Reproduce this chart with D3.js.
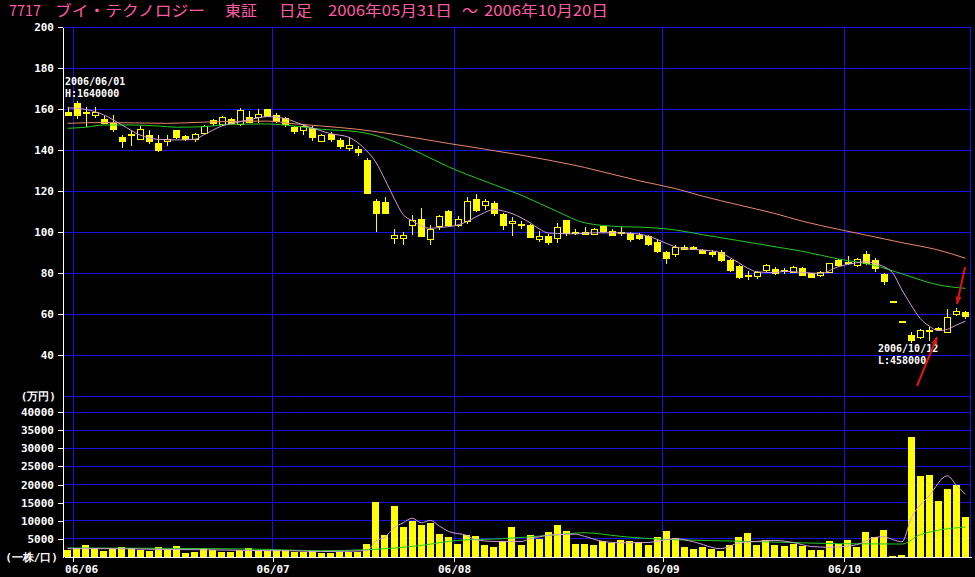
<!DOCTYPE html>
<html lang="ja">
<head>
<meta charset="UTF-8" />
<title>7717 ブイ・テクノロジー 日足</title>
<script src="https://cdn.jsdelivr.net/npm/d3@7"></script>
<style>
  html, body { margin: 0; padding: 0; background: #000; }
  #svgBox { display: block; width: 975px; height: 577px; background: #000; }
</style>
</head>
<body>
<svg id="svgBox" width="975" height="577"></svg>
<script>
// 日付（月/日）
const days = ['05/31',
  '06/01','06/02','06/05','06/06','06/07','06/08','06/09','06/12','06/13','06/14','06/15','06/16',
  '06/19','06/20','06/21','06/22','06/23','06/26','06/27','06/28','06/29','06/30',
  '07/03','07/04','07/05','07/06','07/07','07/10','07/11','07/12','07/13','07/14',
  '07/18','07/19','07/20','07/21','07/24','07/25','07/26','07/27','07/28','07/31',
  '08/01','08/02','08/03','08/04','08/07','08/08','08/09','08/10','08/11','08/14','08/15','08/16',
  '08/17','08/18','08/21','08/22','08/23','08/24','08/25','08/28','08/29','08/30','08/31',
  '09/01','09/04','09/05','09/06','09/07','09/08','09/11','09/12','09/13','09/14','09/15',
  '09/19','09/20','09/21','09/22','09/25','09/26','09/27','09/28','09/29',
  '10/02','10/03','10/04','10/05','10/06','10/10','10/11','10/12','10/13','10/16','10/17',
  '10/18','10/19','10/20']

// 四本値（万円）
const open = [158.3,162.8,158,156.6,155,152.7,146.2,147.2,145.2,147,143,144.2,149.3,146.5,145,148,154.4,152.2,155,152.2,
  156,155.8,159.8,156.8,155.2,151,149.5,150.6,144.3,147.6,144.4,140.5,140.3,135.1,115.1,114.3,96.9,96.6,103.4,106.3,
  96.1,102.6,110.2,103.4,105,116,112.7,114,108.6,104,103.2,103.4,96.4,98,96.9,105.4,99.3,99.8,99,102.6,
  100.1,99.4,99.4,98.2,98,94.8,89.9,88.8,92.5,92.5,91.2,90,89.9,86.3,83.4,78.3,78.2,81.1,81.8,80.7,
  80.2,82.3,79.9,78.9,80.2,86,85.3,83.9,88.8,86,79.4,66,56.2,49.3,48.6,51.8,52.3,51,60,60.6]
const high = [161,164,161,161,156.5,157,147.5,149.6,151.5,150,147.5,147.5,150,147.5,148.5,152.4,155.2,156.5,155.5,160.3,
  159.2,160,160,158,156,151.8,152.5,151.5,148,149,145.8,146.5,142,136,116.3,117,101.5,100,108.3,111.5,
  103.4,108.5,110.5,107.8,117,118.5,116,115,109.5,107.5,105.4,104,100.3,99,104.6,106,101.3,102.6,102,103.5,
  101.5,102.4,100.2,99.4,98.7,96.6,90.5,93.5,93.6,93.2,91.5,91.2,91,87,84,81,81,84.3,83,82.4,
  83.5,83,80.2,81,85,86.8,88.3,87.2,90.5,87.5,80,66,56.2,51,52.6,53.6,53.5,62.2,62.8,61.5]
const low = [156.5,155,151,155.5,152.5,149,141,142,145,143,139,142,145.5,144.5,144,147.5,151.8,151.8,152,151.8,
  153,153,156,153,151,148,147.5,144.4,144,144,140.5,139.5,137,119,100,109,94,93.5,98.5,97.5,
  93.5,101,102.5,102.5,104,110,110.5,108,100.9,98,101.3,97,95,93.5,94.5,98,98.3,98.3,98.5,99.5,
  98,98,95.3,96,93.2,89.6,84.5,88,91,91,89.3,87.7,85.5,80.5,77,76.7,77,80.5,79,79.3,
  79.8,78.5,77.6,77.9,79.8,83,83.9,83,84,80.5,74.2,66,56.2,45.8,47.8,47,51.8,50.7,58.8,57.4]
const close = [156.8,156.8,158.4,158.2,153,150.1,144,147.6,150,144,139.7,145,146.2,145,147.5,151.4,152.8,156,152.8,159.2,
  153.5,157.2,156.3,153.7,152.5,149,151.5,146.2,147.3,145.2,141.6,142,138.7,119,109.1,109.1,98.5,98.2,105.4,97.7,
  101,107.5,103,106.2,115,110.7,115,109.1,103,105,103.5,97.5,98,94.8,102,99.4,99.6,98.8,101.3,100.1,
  98.5,99.8,96.1,96.6,94,90.4,87.2,92.5,91.7,91.7,89.6,88.8,86,81.1,77.9,78.7,80.2,83.9,79.9,81.2,
  82.8,78.7,77.9,80.4,84.4,83.9,84.6,86.7,84.4,82.3,75.8,66,56.2,47,51.9,52,52.7,58.4,61.2,58.7]

// 出来高（一株/口）
const volume = [2000,2480,3390,2480,1550,2200,2760,2480,1930,1550,2760,2300,3120,1000,1300,2480,2020,1300,1400,2020,
  2480,2020,1750,1840,1840,1400,1400,1550,1200,1100,1300,1300,1300,3670,15060,6150,14150,8170,10010,8720,
  9380,6430,5410,3670,5960,5780,3390,2650,4300,8170,3210,6150,4970,6790,8910,7260,3670,3670,3390,4300,
  3850,4780,4500,4050,3390,5500,7060,5240,2840,2290,2650,2290,1740,3390,5600,6520,3390,4580,3390,3120,
  3670,2930,2020,2020,4300,3480,4780,2840,6980,5600,7530,360,640,33000,22240,22520,15530,18840,19940,11120]

// 移動平均（[index, 値]）
const ma5 = [[0,160.6],[2,159.8],[4,157.1],[6,152.2],[8,147.3],[10,145.2],[12,144.9],[14,145.2],[15,147.3],[17,151.7],
  [19,153.8],[21,155.7],[22,156.3],[24,155.3],[26,152.2],[28,149.3],[29,148],[31,146.2],[32,143.6],[33,139.5],
  [34,134],[35,125.5],[36,116.5],[37,108.5],[38,105.5],[39,103],[40,101.8],[41,102.2],[43,103.4],[44,105],
  [45,107.3],[46,109.5],[47,111],[48,110.3],[49,109],[50,107],[51,104.5],[52,101.5],[53,99.5],[54,99.3],
  [56,99.1],[58,99.6],[60,99.6],[62,99.4],[64,98],[65,96.4],[66,94.5],[67,92.8],[69,91.5],[71,90.8],
  [72,89.9],[73,87.6],[74,85],[75,82.3],[76,80.6],[78,80.2],[79,80.8],[81,80.3],[83,79.8],[85,83.1],
  [87,85],[88,85.5],[89,84.7],[90,83.1],[91,79.9],[92,71.7],[93,64.4],[94,57.9],[95,54.1],[96,51.9],
  [97,52.5],[98,54.6],[99,56.5]]
const ma25 = [[0,150.6],[2,151.1],[4,152.2],[7,152.2],[10,151.7],[12,151.1],[15,151.4],[18,152.5],[22,152.7],[25,151.7],
  [28,150.1],[32,148.9],[35,145.7],[39,138.2],[42,131.8],[46,124.8],[50,118],[54,110],[57,104.5],[61,102.6],
  [63,102.4],[67,101],[70,98.7],[74,95.8],[78,92.8],[81,90.6],[85,86.8],[89,83.7],[92,79.6],[96,74.2],[99,72.5]]
const ma75 = [[0,153],[4,153.4],[11,153],[15,153.6],[18,153.9],[22,154.1],[25,152.8],[28,151.7],[32,150.1],[35,148.3],
  [42,143.2],[50,137.5],[57,131.5],[63,125],[67,121.2],[70,117.5],[74,113.2],[78,109],[81,105.3],[85,101.3],
  [89,97.6],[92,94.8],[96,91.2],[99,87.2]]
const vol5 = [[0,2300],[5,2300],[10,2100],[15,2000],[20,1800],[25,1700],[28,1500],[33,1750],[34,4400],[35,5500],
  [36,8070],[37,9440],[38,10700],[39,9440],[40,10090],[41,8540],[42,7060],[44,5960],[45,4780],[47,4300],
  [50,4300],[51,5000],[54,6200],[56,6300],[57,5700],[59,4300],[61,3900],[64,4000],[67,5050],[69,4200],
  [72,2300],[74,3850],[76,4300],[78,4580],[80,4000],[82,2900],[84,2700],[86,3000],[87,3390],[89,5400],
  [90,5600],[91,4800],[92,4200],[93,10600],[95,16900],[97,22400],[98,19800],[99,17300]]
const vol25 = [[0,2500],[10,2400],[20,2200],[28,1750],[33,2000],[39,3200],[43,4580],[48,5050],[54,6150],[57,6700],
  [61,5690],[64,5100],[70,4580],[78,4120],[85,3670],[92,3570],[94,6150],[99,8260]]

const priceTicks = [40, 60, 80, 100, 120, 140, 160, 180, 200]
const volTicks = [5000, 10000, 15000, 20000, 25000, 30000, 35000, 40000]
const titleParts = [['7717', 9, 32], ['ブイ・テクノロジー', 55, 150], ['東証', 225, 32], ['日足', 279, 33],
  ['2006年05月31日', 328, 124], ['～', 462, 16], ['2006年10月20日', 484, 124]]

function init() {
  const svg = d3.select('#svgBox')
  const left = 63, right = 970
  const grid = '#1414e8', yellow = '#ffff00'
  const mono = "'DejaVu Sans Mono', monospace"
  const n = days.length

  const xs = d3.scaleLinear().domain([0, n]).range([left, right])
  const xc = i => xs(i + 0.5)
  const yPrice = d3.scaleLinear().domain([20, 200]).range([396, 27])
  const yVol = d3.scaleLinear().domain([0, 40000]).range([557, 412])

  // タイトル
  svg.append('g').selectAll('text').data(titleParts).join('text')
    .attr('x', d => d[1]).attr('y', 16)
    .attr('textLength', d => d[2]).attr('lengthAdjust', 'spacingAndGlyphs')
    .style('font-family', "'Noto Sans CJK JP', sans-serif").style('font-size', '15px')
    .attr('fill', '#ff5aa5').text(d => d[0])

  // グリッド
  const gg = svg.append('g').attr('stroke', grid).attr('stroke-width', 1).attr('shape-rendering', 'crispEdges')
  gg.selectAll('.hp').data(priceTicks.concat([20])).join('line')
    .attr('x1', left).attr('x2', right).attr('y1', d => yPrice(d)).attr('y2', d => yPrice(d))
  gg.selectAll('.hv').data(volTicks).join('line')
    .attr('x1', left).attr('x2', right).attr('y1', d => yVol(d)).attr('y2', d => yVol(d))
  const monthIdx = d3.range(1, n).filter(i => days[i].slice(0, 2) !== days[i - 1].slice(0, 2))
  gg.selectAll('.vm').data(monthIdx).join('line')
    .attr('x1', i => xs(i) + 1).attr('x2', i => xs(i) + 1).attr('y1', 27).attr('y2', 557)
  gg.append('line').attr('x1', right).attr('x2', right).attr('y1', 27).attr('y2', 557)

  // 軸
  const styleAxis = g => {
    g.attr('font-family', null).attr('font-size', null)
    g.selectAll('path, line').attr('stroke', '#fff').attr('shape-rendering', 'crispEdges')
    g.selectAll('text').attr('fill', '#fff').style('font-family', mono)
      .style('font-weight', 'bold').style('font-size', '11px')
  }
  svg.append('g').attr('transform', `translate(${left},0)`)
    .call(d3.axisLeft(yPrice).tickValues(priceTicks).tickSize(5).tickSizeOuter(0).tickPadding(4))
    .call(styleAxis)
  svg.append('g').attr('transform', `translate(${left},0)`)
    .call(d3.axisLeft(yVol).tickValues(volTicks).tickFormat(d3.format('d'))
      .tickSize(5).tickSizeOuter(0).tickPadding(4))
    .call(styleAxis)
  svg.append('line').attr('x1', left).attr('x2', left).attr('y1', 396).attr('y2', 557)
    .attr('stroke', '#fff').attr('shape-rendering', 'crispEdges')
  const xAxisG = svg.append('g').attr('transform', `translate(0,557)`)
    .call(d3.axisBottom(d3.scaleLinear().domain([0, n]).range([left + 1, right + 1]))
      .tickValues(monthIdx).tickFormat(i => '06/' + days[i].slice(0, 2))
      .tickSize(5).tickSizeOuter(0).tickPadding(3))
    .call(styleAxis)
  xAxisG.select('.tick text').attr('x', 8)

  const unitStyle = t => t.attr('fill', '#fff').attr('text-anchor', 'end')
    .style('font-family', mono).style('font-weight', 'bold').style('font-size', '11px')
  svg.append('text').attr('x', 56).attr('y', 400).text('(万円)').call(unitStyle)
  svg.append('text').attr('x', 58).attr('y', 561).text('(一株/口)').call(unitStyle)

  // 出来高
  svg.append('g').selectAll('rect').data(volume).join('rect')
    .attr('x', (d, i) => Math.round(xc(i) - 3.5)).attr('width', 7)
    .attr('y', d => yVol(d)).attr('height', d => yVol(0) - yVol(d))
    .attr('fill', yellow).attr('shape-rendering', 'crispEdges')

  // 移動平均線
  const lineP = d3.line().x(d => xc(d[0])).y(d => yPrice(d[1])).curve(d3.curveMonotoneX)
  const lineV = d3.line().x(d => xc(d[0])).y(d => yVol(d[1])).curve(d3.curveMonotoneX)
  const maG = svg.append('g').attr('fill', 'none').attr('stroke-width', 1)
  maG.append('path').attr('d', lineP(ma75)).attr('stroke', '#e8896a')
  maG.append('path').attr('d', lineP(ma25)).attr('stroke', '#22cc22')
  maG.append('path').attr('d', lineV(vol25)).attr('stroke', '#22cc22')
  maG.append('path').attr('d', lineV(vol5)).attr('stroke', '#d39be0')

  // ローソク足
  const cg = svg.append('g').attr('shape-rendering', 'crispEdges')
  const candles = cg.selectAll('g').data(d3.range(n)).join('g')
  candles.append('line')
    .attr('x1', i => Math.round(xc(i)) + 0.5).attr('x2', i => Math.round(xc(i)) + 0.5)
    .attr('y1', i => yPrice(high[i])).attr('y2', i => yPrice(low[i]))
    .attr('stroke', yellow)
  candles.append('rect')
    .attr('x', i => Math.round(xc(i)) - 3 + 0.5).attr('width', 6)
    .attr('y', i => yPrice(Math.max(open[i], close[i])))
    .attr('height', i => Math.max(1, Math.abs(yPrice(open[i]) - yPrice(close[i]))))
    .attr('fill', i => close[i] >= open[i] ? '#000' : yellow)
    .attr('stroke', yellow)

  maG.raise()
  maG.append('path').attr('d', lineP(ma5)).attr('stroke', '#d39be0')

  // 高値・安値注記
  const note = (xp, yp, lines) => lines.forEach((t, k) => svg.append('text')
    .attr('x', xp).attr('y', yp + k * 11.5).text(t).attr('fill', '#fff')
    .style('font-family', mono).style('font-weight', 'bold').style('font-size', '10px'))
  note(65, 85, ['2006/06/01', 'H:1640000'])
  note(878, 352, ['2006/10/12', 'L:458000'])

  // 矢印
  const arrow = (x1, y1, x2, y2) => {
    const a = Math.atan2(y2 - y1, x2 - x1), s = 8
    svg.append('line').attr('x1', x1).attr('y1', y1).attr('x2', x2).attr('y2', y2)
      .attr('stroke', '#e01515').attr('stroke-width', 2)
    const p = [[x2, y2],
      [x2 - s * Math.cos(a - 0.4), y2 - s * Math.sin(a - 0.4)],
      [x2 - s * Math.cos(a + 0.4), y2 - s * Math.sin(a + 0.4)]]
    svg.append('path').attr('d', 'M' + p.join('L') + 'Z').attr('fill', '#e01515')
  }
  arrow(917, 386, 937, 337)
  arrow(965, 267, 957, 304)
}
init()
</script>
</body>
</html>
